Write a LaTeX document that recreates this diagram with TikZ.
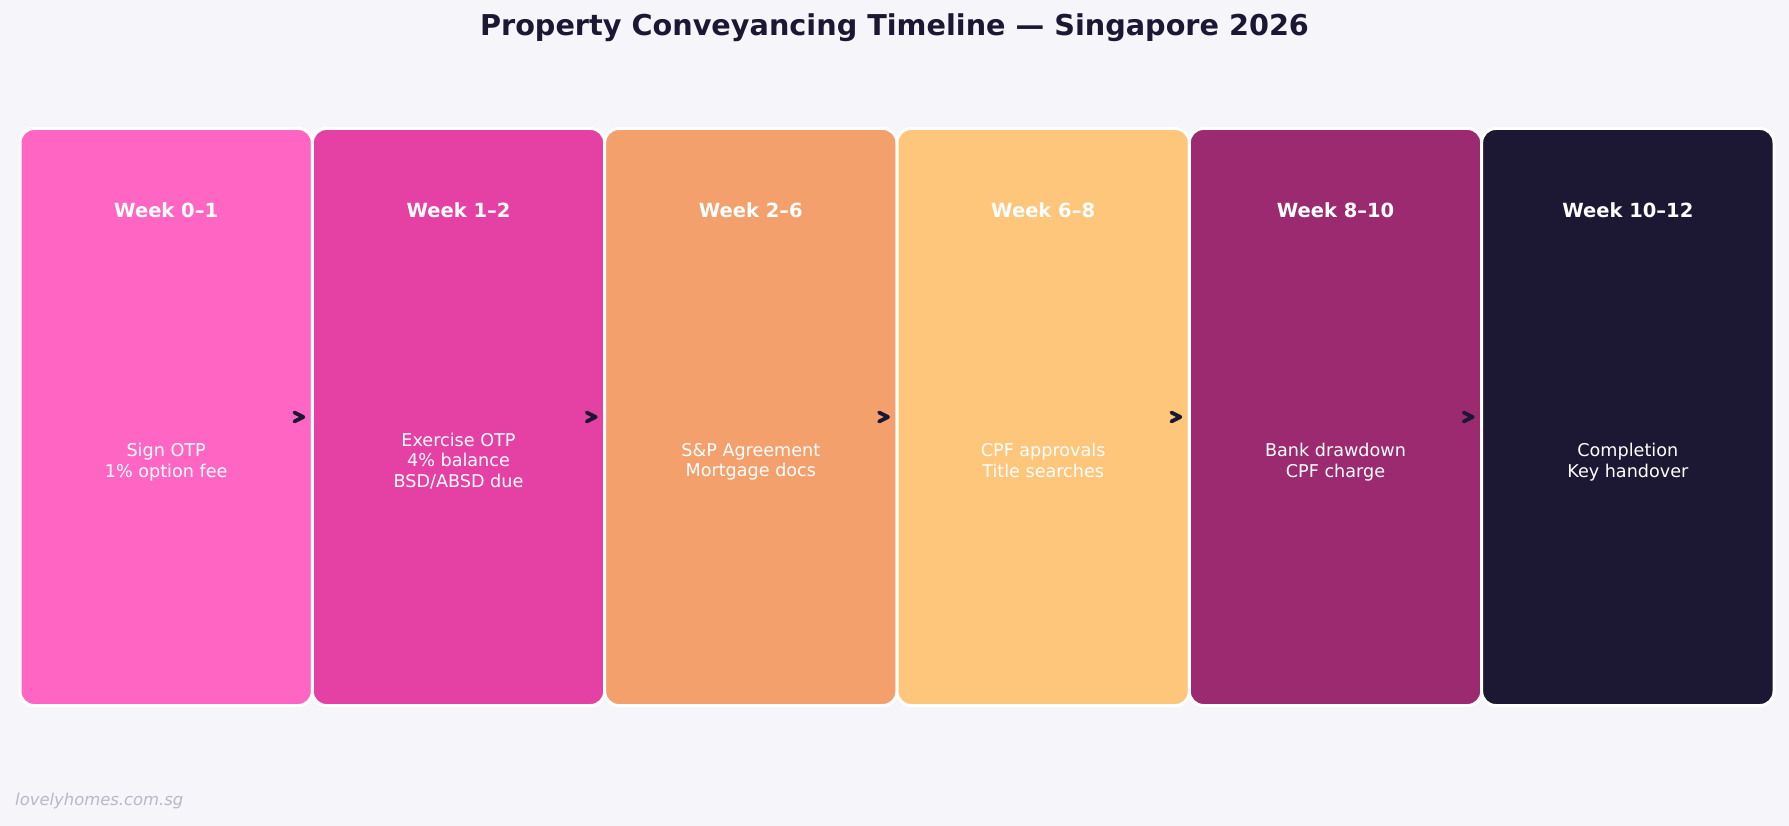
\documentclass[tikz,border=0pt]{standalone}
\usepackage{fontspec}
\setmainfont{DejaVu Sans}
\definecolor{bgc}{HTML}{F5F5FA}
\definecolor{titlec}{HTML}{1C1833}
\definecolor{cA}{HTML}{FF66C4}
\definecolor{cB}{HTML}{E540A4}
\definecolor{cC}{HTML}{F4A06C}
\definecolor{cD}{HTML}{FEC67B}
\definecolor{cE}{HTML}{9B2A70}
\definecolor{cF}{HTML}{1C1833}
\definecolor{wmc}{HTML}{B8B8C6}
\tikzset{
  phase/.style={draw=white, line width=3pt, rounded corners=14pt, inner sep=0pt, outer sep=0pt,
    minimum width=292.33pt, minimum height=577pt},
  weeklbl/.style={text=white, font=\fontsize{19.5}{23}\selectfont\bfseries, inner sep=0pt},
  bodylbl/.style={text=white, font=\fontsize{17.6}{20.5}\selectfont, align=center, inner sep=0pt,
    execute at begin node=\vphantom{Åg}, execute at end node=\vphantom{Åg}},
  chev/.style={draw=titlec, line width=3.8pt, line cap=round, line join=round}
}
\begin{document}
\begin{tikzpicture}[x=1pt,y=-1pt]
\fill[bgc] (0,0) rectangle (1789,826);
\useasboundingbox (0,0) rectangle (1789,826);
\node[text=titlec, font=\fontsize{28.7}{34}\selectfont\bfseries, inner sep=0pt] (title) at (894.5,28) {Property Conveyancing Timeline — Singapore 2026};
\foreach \i/\c/\w/\b in {0/cA/Week 0–1/{Sign OTP\\1\% option fee},
                         1/cB/Week 1–2/{Exercise OTP\\4\% balance\\BSD/ABSD due},
                         2/cC/Week 2–6/{S\&P Agreement\\Mortgage docs},
                         3/cD/Week 6–8/{CPF approvals\\Title searches},
                         4/cE/Week 8–10/{Bank drawdown\\CPF charge},
                         5/cF/Week 10–12/{Completion\\Key handover}} {
  \node[phase, fill=\c] (b\i) at ({166.17+292.33*\i},417) {};
  \node[weeklbl] (w\i) at ({166.17+292.33*\i},210) {\w};
  \node[bodylbl] (t\i) at ({166.17+292.33*\i},462) {\b};
}
\foreach \i in {0,...,4} {
  \draw[chev] ([shift={(-18,-4.5)}]b\i.east) -- ([shift={(-9,0)}]b\i.east) -- ([shift={(-18,4.5)}]b\i.east);
}
\node[anchor=west, text=wmc, font=\fontsize{16.4}{20}\selectfont\itshape, inner sep=0pt] (wm) at (15,801) {lovelyhomes.com.sg};
\end{tikzpicture}
\end{document}
